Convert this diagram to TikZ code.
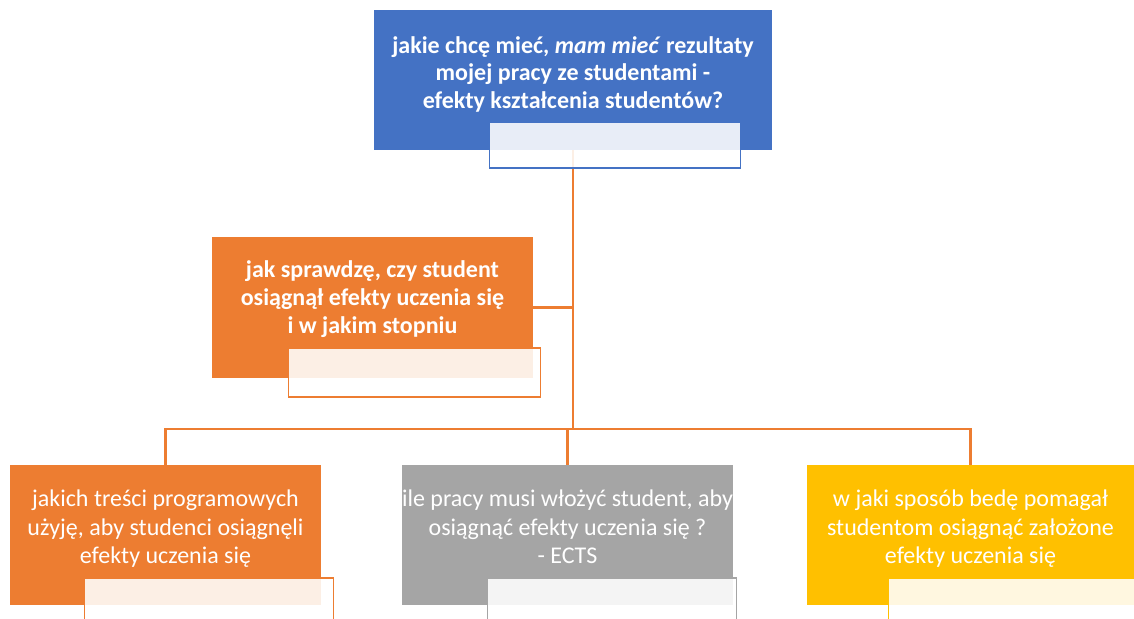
\documentclass[tikz,border=0pt]{standalone}
\usepackage{fontspec}
\setmainfont{Carlito}
\usetikzlibrary{calc}
\definecolor{accblue}{HTML}{4472C4}
\definecolor{accorange}{HTML}{ED7D31}
\definecolor{accgray}{HTML}{A5A5A5}
\definecolor{accyellow}{HTML}{FFC000}

\begin{document}
\begin{tikzpicture}[x=1pt,y=-1pt,
	box/.style={fill=#1,text=white,align=center,inner sep=0pt,minimum height=140,font=\fontsize{24}{28.5}\selectfont},
	main box/.style={box=#1,font=\bfseries\fontsize{24}{27.8}\selectfont},
	sub box/.style={draw=#1,line width=1.5pt,fill=white,fill opacity=0.88,anchor=north west,inner sep=0pt,minimum width=249,minimum height=60},
	link/.style={draw=accorange,line width=2.2pt}]
	\useasboundingbox (0,0) rectangle (1134,618);

	\node[main box=accblue,minimum width=398,text depth=15pt] (goal) at (573,80) {jakie chcę mieć, \textit{mam mieć} rezultaty\\mojej pracy ze studentami -\\efekty kształcenia studentów?};
	\node[main box=accorange,minimum width=321,minimum height=141,text depth=21pt] (check) at (372.5,307.5) {jak sprawdzę, czy student\\osiągnął efekty uczenia się\\i w jakim stopniu};
	\node[box=accorange,minimum width=311,text depth=16pt] (content) at (165.5,535) {jakich treści programowych\\użyję, aby studenci osiągnęli\\efekty uczenia się};
	\node[box=accgray,minimum width=331,text depth=16pt] (work) at (567.5,535) {ile pracy musi włożyć student, aby\\osiągnąć efekty uczenia się ?\\- ECTS};
	\node[box=accyellow,minimum width=327,text depth=16pt] (support) at (970.5,535) {w jaki sposób bedę pomagał\\studentom osiągnąć założone\\efekty uczenia się};

	% connectors
	\coordinate (bus) at (goal.south |- 0,429);
	\draw[link] (goal.south) -- (bus);
	\draw[link] (check.east) -- (check.east -| goal.south);
	\draw[link] (bus) -| (content.north);
	\draw[link] (bus) -| (work.north);
	\draw[link] (bus) -| (support.north);

	% empty text boxes
	\node[sub box=accblue,minimum width=251,minimum height=46] (goal sub) at ($(goal.south west)+(115,-29)$) {};
	\node[sub box=accorange,minimum width=252,minimum height=49] (check sub) at ($(check.south west)+(76,-31)$) {};
	\node[sub box=accorange] (content sub) at ($(content.south west)+(74,-28)$) {};
	\node[sub box=accgray] (work sub) at ($(work.south west)+(85,-28)$) {};
	\node[sub box=accyellow,minimum width=260] (support sub) at ($(support.south west)+(81,-28)$) {};
\end{tikzpicture}
\end{document}
